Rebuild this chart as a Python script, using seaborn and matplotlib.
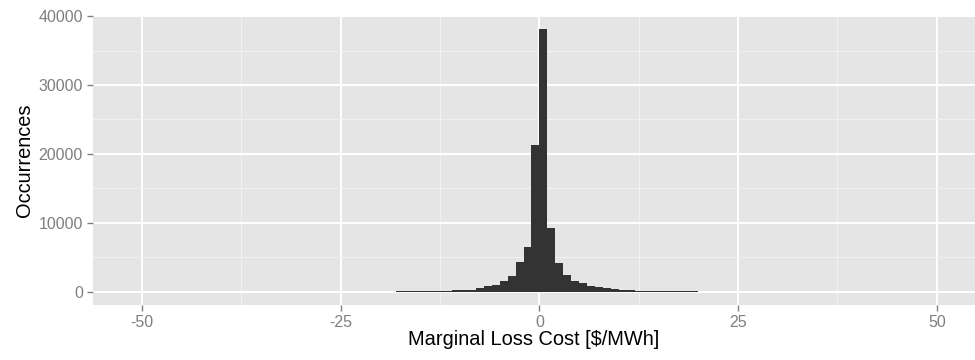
import numpy as np
import pandas as pd
import matplotlib
matplotlib.use("Agg")
import matplotlib.pyplot as plt
from matplotlib.ticker import FixedLocator
import seaborn as sns

# Histogram of marginal loss cost, 1 $/MWh bins; left bin edges and counts
bin_left = list(range(-51, 50))
counts = [
    15, 20, 10, 0, 15, 0, 10, 0, 20, 0,          # -51 .. -42
    0, 40, 10, 45, 40, 0, 10, 0, 45, 0,          # -41 .. -32
    0, 25, 30, 30, 30, 35, 35, 35, 40, 40,       # -31 .. -22
    45, 45, 50, 55, 70, 80, 90, 100, 120, 160,   # -21 .. -12
    240, 290, 340, 530, 820, 1010, 1520, 2300, 4290, 6450,  # -11 .. -2
    21370,                                        # -1
    38100,                                        # 0
    9200, 4190, 2500, 1590, 1300, 870, 720, 580, 390, 290,  # 1 .. 10
    230, 150, 110, 90, 80, 70, 60, 55, 60, 40,   # 11 .. 20
    50, 50, 35, 30, 30, 28, 25, 25, 22, 22,      # 21 .. 30
    20, 20, 20, 20, 0, 15, 0, 15, 15, 0,         # 31 .. 40
    30, 30, 0, 0, 0, 0, 0, 5, 5,                 # 41 .. 49
]
x_ticks = [-50, -25, 0, 25, 50]
y_ticks = [0, 10000, 20000, 30000, 40000]

edges = [float(b) for b in bin_left] + [bin_left[-1] + 1.0]
df = pd.DataFrame({"cost": [b + 0.5 for b in bin_left], "n": counts})

sns.set_theme(style="white")
plt.rcParams["font.family"] = ["Liberation Sans", "DejaVu Sans"]

fig = plt.figure(figsize=(9.75, 3.6), dpi=100)
W, H = 975.0, 360.0
left, right, top, bottom = 92.7, 975.0, 16.0, 305.0
ax = fig.add_axes([left / W, 1 - bottom / H, (right - left) / W, (bottom - top) / H])
ax.set_facecolor("#E5E5E5")

sns.histplot(data=df, x="cost", weights="n", bins=edges, ax=ax,
             color="#333333", alpha=1, linewidth=0, zorder=3)

ymax = max(counts)
ax.set_ylim(-0.05 * ymax, 1.05 * ymax)
ax.set_xlim(-56.2, 54.8)

ax.xaxis.set_major_locator(FixedLocator(x_ticks))
ax.yaxis.set_major_locator(FixedLocator(y_ticks))
ax.xaxis.set_minor_locator(FixedLocator([-37.5, -12.5, 12.5, 37.5]))
ax.yaxis.set_minor_locator(FixedLocator([5000, 15000, 25000, 35000]))
ax.set_xticklabels([str(v) for v in x_ticks])
ax.set_yticklabels([str(v) for v in y_ticks])

ax.grid(which="major", color="white", linewidth=1.4, zorder=1)
ax.grid(which="minor", color="#F2F2F2", linewidth=0.7, zorder=1)
ax.set_axisbelow(True)
for s in ax.spines.values():
    s.set_visible(False)

ax.tick_params(which="major", axis="both", length=4.5, width=1.0, color="#7F7F7F",
               labelcolor="#7F7F7F", labelsize=11.5, pad=2.5, direction="out",
               bottom=True, left=True)
ax.tick_params(which="minor", length=0)

ax.set_xlabel("Marginal Loss Cost [$/MWh]", fontsize=14.4, color="black")
ax.set_ylabel("Occurrences", fontsize=14.4, color="black")
ax.xaxis.set_label_coords(0.5, -0.085)
ax.yaxis.set_label_coords(-0.066, 0.5)

fig.savefig("out.png", dpi=100, facecolor="white")
